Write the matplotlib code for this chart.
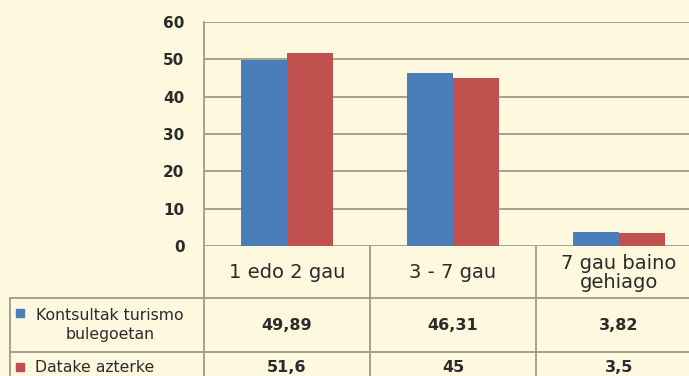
import matplotlib.pyplot as plt
import matplotlib.transforms as mtransforms
from matplotlib.lines import Line2D
from matplotlib.patches import Rectangle
import numpy as np

categories = ["1 edo 2 gau", "3 - 7 gau", "7 gau baino\ngehiago"]
kontsultak = [49.89, 46.31, 3.82]
datake = [51.6, 45, 3.5]
series_names = ["Kontsultak turismo\nbulegoetan", "Datake azterke"]
value_labels = [["49,89", "46,31", "3,82"], ["51,6", "45", "3,5"]]
yticks = [0, 10, 20, 30, 40, 50, 60]

bg = "#fdf8de"
blue = "#4a7ebb"
red = "#c0504d"
line_c = "#9c9a8c"
text_c = "#2b2b2b"

W, H = 689, 376
fig = plt.figure(figsize=(W / 100, H / 100), dpi=100, facecolor=bg)

# pixel helpers (origin top-left)
def fx(px):
    return px / W

def fy(py):
    return (H - py) / H

x0, y_top, y_zero = 204, 22, 246
col_w = 166
ax = fig.add_axes([fx(x0), fy(y_zero), 1 - fx(x0), fy(y_top) - fy(y_zero)])
ax.set_facecolor(bg)

x = np.arange(len(categories))
w = 0.277
ax.bar(x - w / 2, kontsultak, w, color=blue, zorder=3)
ax.bar(x + w / 2, datake, w, color=red, zorder=3)

ax.set_ylim(0, 60)
ax.set_xlim(-0.5, -0.5 + (W - x0) / col_w)
ax.set_yticks(yticks)
ax.set_xticks([])
ax.yaxis.grid(True, color=line_c, lw=1.3, zorder=1)
ax.tick_params(axis="y", length=0, pad=14, labelsize=11, labelcolor=text_c)
for lab in ax.get_yticklabels():
    lab.set_fontweight("bold")
for s in ax.spines.values():
    s.set_visible(False)
ax.set_axisbelow(True)

# data table below the plot
tf = fig.transFigure
blend = mtransforms.blended_transform_factory(ax.transData, tf)
lw = 1.3
row_top, row_mid = 298, 352

fig.add_artist(Line2D([fx(x0), fx(x0)], [0, fy(y_top)], color=line_c, lw=lw, transform=tf))
fig.add_artist(Line2D([fx(10), 1], [fy(row_top)] * 2, color=line_c, lw=lw, transform=tf))
fig.add_artist(Line2D([fx(10), 1], [fy(row_mid)] * 2, color=line_c, lw=lw, transform=tf))
fig.add_artist(Line2D([fx(10), fx(10)], [0, fy(row_top)], color=line_c, lw=lw, transform=tf))
for b in x[:-1] + 0.5:
    fig.add_artist(Line2D([b, b], [0, fy(y_zero)], color=line_c, lw=lw, transform=blend))

for i, cat in enumerate(categories):
    fig.text(i, fy(273), cat, transform=blend, ha="center", va="center",
             fontsize=14, color=text_c, linespacing=0.95)
    fig.text(i, fy(326), value_labels[0][i], transform=blend, ha="center", va="center",
             fontsize=11.5, fontweight="bold", color=text_c)
    fig.text(i, fy(367), value_labels[1][i], transform=blend, ha="center", va="center",
             fontsize=11.5, fontweight="bold", color=text_c)

# legend keys
fig.add_artist(Rectangle((fx(16), fy(317)), 8 / W, 8 / H, color=blue, transform=tf))
fig.text(fx(110), fy(325), series_names[0], transform=tf, ha="center", va="center",
         fontsize=11.3, color=text_c, linespacing=1.25)
fig.add_artist(Rectangle((fx(16), fy(371)), 8 / W, 8 / H, color=red, transform=tf))
fig.text(fx(35), fy(367), series_names[1], transform=tf, ha="left", va="center",
         fontsize=11.3, color=text_c)

fig.savefig("out.png", dpi=100, facecolor=bg)
